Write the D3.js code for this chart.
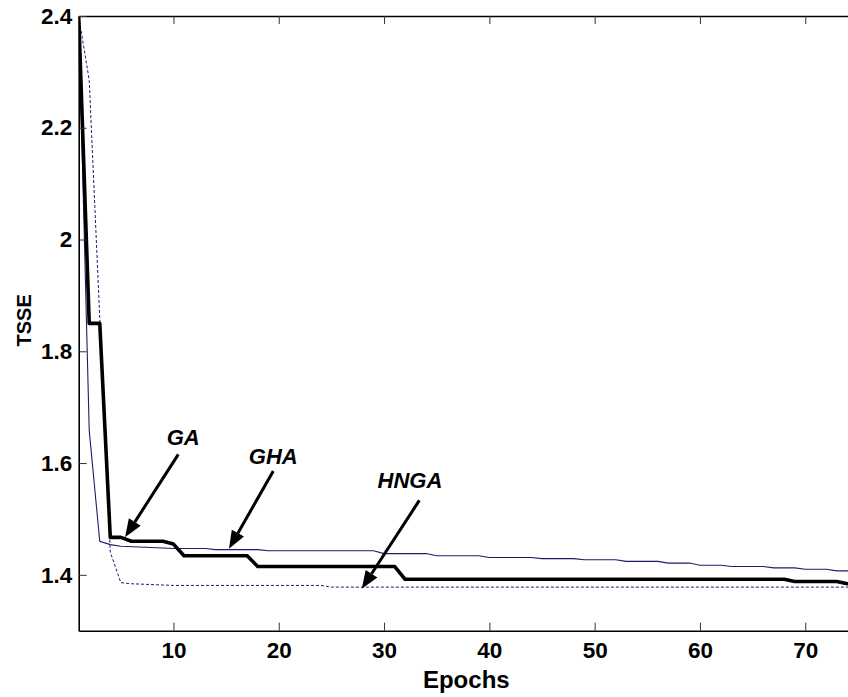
<!DOCTYPE html>
<html>
<head>
<meta charset="utf-8">
<script src="https://cdn.jsdelivr.net/npm/d3@7"></script>
<style>
    body { margin: 0; background: #fff; }
    svg text { font-family: "Liberation Sans", Arial, sans-serif; font-weight: bold; }
</style>
</head>
<body>
<div id="graph"></div>
<script>
"use strict";
// x ticks / y ticks
const xTicks = [10, 20, 30, 40, 50, 60, 70];
const yTicks = [1.4, 1.6, 1.8, 2, 2.2, 2.4];

// GA (thick black, stepped)
const gaEpochs = [1, 2, 3, 4, 5, 6, 9, 10, 11, 17, 18, 31, 32, 68, 69, 73, 74, 75];
const gaValues = [2.40, 1.85, 1.85, 1.467, 1.467, 1.460, 1.460, 1.455, 1.434, 1.434, 1.415, 1.415, 1.392, 1.392, 1.388, 1.388, 1.384, 1.384];

// GHA (thin navy)
const ghaEpochs = [1, 2, 3, 4, 5, 9, 10, 13, 14, 18, 19, 29, 30, 34, 35, 39, 40, 44, 45, 48, 49, 52, 53, 56, 57, 59, 60, 62, 63, 66, 67, 69, 70, 72, 73, 75];
const ghaValues = [2.40, 1.658, 1.460, 1.454, 1.451, 1.448, 1.447, 1.447, 1.445, 1.445, 1.443, 1.443, 1.438, 1.438, 1.434, 1.434, 1.431, 1.431, 1.429, 1.429, 1.427, 1.427, 1.424, 1.424, 1.421, 1.421, 1.417, 1.417, 1.415, 1.415, 1.4125, 1.4125, 1.410, 1.410, 1.407, 1.407];

// HNGA (dashed navy)
const hngaEpochs = [1, 2, 3, 4, 5, 6, 10, 24, 25, 75];
const hngaValues = [2.40, 2.285, 1.86, 1.4405, 1.386, 1.384, 1.381, 1.381, 1.378, 1.378];

// annotation labels: text anchor, arrow start, arrow tip (epoch, TSSE)
const noteLabels = ["GA", "GHA", "HNGA"];
const noteText = [[10.93, 1.632], [19.48, 1.599], [32.46, 1.556]];
const noteFrom = [[10.46, 1.6155], [19.48, 1.5856], [33.35, 1.5331]];
const noteTo = [[5.40, 1.4673], [15.27, 1.4466], [27.88, 1.3749]];

(function() {
    const svgSize = { width: 848, height: 697 };
    const plot = { left: 78.7, top: 16, right: 857.9, bottom: 630.7 };
    const navy = "#1c1c6e";

    const svg = d3.select("#graph")
        .append("svg")
            .attr("width", svgSize.width)
            .attr("height", svgSize.height);

    const xScale = d3.scaleLinear()
        .domain([1, 75])
        .range([plot.left, plot.right]);
    const yScale = d3.scaleLinear()
        .domain([1.3, 2.4])
        .range([plot.bottom, plot.top]);

    svg.append("clipPath").attr("id", "clip")
        .append("rect")
            .attr("x", plot.left).attr("y", plot.top)
            .attr("width", plot.right - plot.left)
            .attr("height", plot.bottom - plot.top);

    const line = d3.line()
        .x(d => xScale(d[0]))
        .y(d => yScale(d[1]));

    function pairs(xs, ys) {
        return xs.map((x, i) => [x, ys[i]]);
    }

    const lines = svg.append("g").attr("clip-path", "url(#clip)");
    lines.append("path")
        .datum(pairs(ghaEpochs, ghaValues))
        .attr("d", line)
        .attr("fill", "none")
        .attr("stroke", navy)
        .attr("stroke-width", 1.1);
    lines.append("path")
        .datum(pairs(hngaEpochs, hngaValues))
        .attr("d", line)
        .attr("fill", "none")
        .attr("stroke", navy)
        .attr("stroke-width", 1)
        .attr("stroke-dasharray", "3,2");
    lines.append("path")
        .datum(pairs(gaEpochs, gaValues))
        .attr("d", line)
        .attr("fill", "none")
        .attr("stroke", "#000")
        .attr("stroke-width", 3.6)
        .attr("stroke-linejoin", "round");

    // axes, ticks pointing inward like matlab
    const fmt = d3.format("~g");
    svg.append("g")
        .attr("class", "axis")
        .attr("transform", "translate(0," + plot.bottom + ")")
        .call(d3.axisBottom(xScale).tickValues(xTicks).tickSizeInner(-8).tickSizeOuter(0).tickPadding(11).tickFormat(fmt));
    svg.append("g")
        .attr("class", "axis")
        .attr("transform", "translate(0," + plot.top + ")")
        .call(d3.axisTop(xScale).tickValues(xTicks).tickSizeInner(-8).tickSizeOuter(0).tickFormat(""));
    svg.append("g")
        .attr("class", "axis")
        .attr("transform", "translate(" + plot.left + ",0)")
        .call(d3.axisLeft(yScale).tickValues(yTicks).tickSizeInner(-8).tickSizeOuter(0).tickPadding(6.4).tickFormat(fmt));
    svg.append("g")
        .attr("class", "axis")
        .attr("transform", "translate(" + plot.right + ",0)")
        .call(d3.axisRight(yScale).tickValues(yTicks).tickSizeInner(-8).tickSizeOuter(0).tickFormat(""));

    svg.selectAll(".axis path").attr("stroke", "#000").attr("stroke-width", 1.6);
    svg.selectAll(".axis line").attr("stroke", "#333").attr("stroke-width", 1);
    svg.selectAll(".axis text")
        .attr("fill", "#000")
        .style("font-size", "22.5px")
        .style("font-family", "'Liberation Sans', Arial, sans-serif")
        .style("font-weight", "bold");

    svg.append("text")
        .attr("x", (plot.left + plot.right) / 2 - 2)
        .attr("y", 688)
        .attr("text-anchor", "middle")
        .style("font-size", "24px")
        .text("Epochs");
    svg.append("text")
        .attr("transform", "translate(31," + ((plot.top + plot.bottom) / 2 - 3) + ") rotate(-90)")
        .attr("text-anchor", "middle")
        .style("font-size", "20px")
        .text("TSSE");

    // arrows
    const notes = svg.append("g");
    noteLabels.forEach((label, i) => {
        notes.append("text")
            .attr("x", xScale(noteText[i][0]))
            .attr("y", yScale(noteText[i][1]))
            .attr("text-anchor", "middle")
            .style("font-size", "22px")
            .style("font-style", "italic")
            .text(label);

        const x0 = xScale(noteFrom[i][0]), y0 = yScale(noteFrom[i][1]);
        const x1 = xScale(noteTo[i][0]), y1 = yScale(noteTo[i][1]);
        const ang = Math.atan2(y1 - y0, x1 - x0);
        const headLen = 18, headW = 7;
        const bx = x1 - headLen * Math.cos(ang), by = y1 - headLen * Math.sin(ang);
        notes.append("line")
            .attr("x1", x0).attr("y1", y0)
            .attr("x2", bx).attr("y2", by)
            .attr("stroke", "#000")
            .attr("stroke-width", 3);
        const px = -Math.sin(ang), py = Math.cos(ang);
        notes.append("path")
            .attr("d", "M" + x1 + "," + y1 +
                "L" + (bx + headW * px) + "," + (by + headW * py) +
                "L" + (bx - headW * px) + "," + (by - headW * py) + "Z")
            .attr("fill", "#000");
    });
})();
</script>
</body>
</html>
